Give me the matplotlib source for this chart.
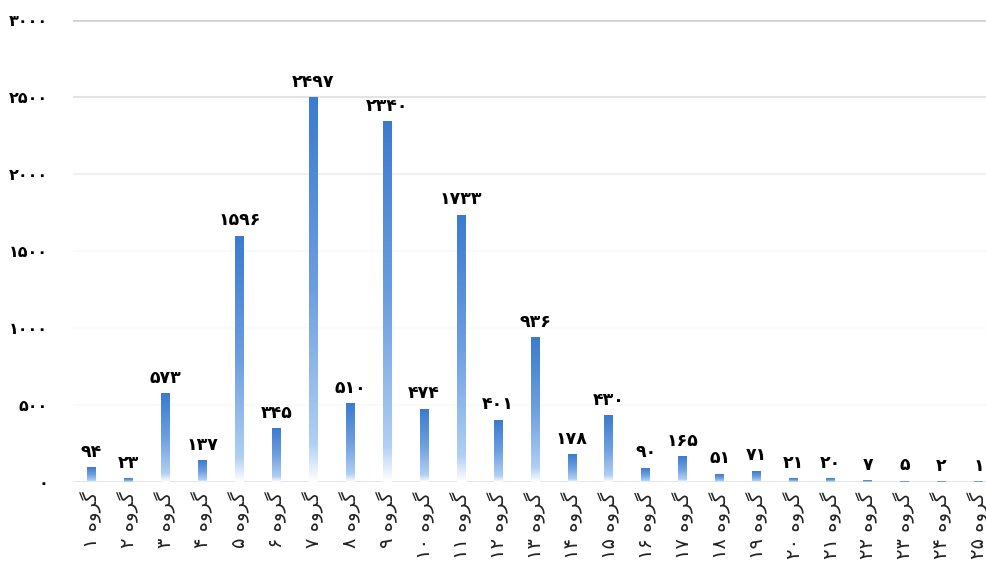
import numpy as np
import matplotlib.pyplot as plt
from matplotlib.colors import LinearSegmentedColormap

groups = list(range(1, 26))
values = [94, 23, 573, 137, 1596, 345, 2497, 510, 2340, 474, 1733, 401, 936,
          178, 430, 90, 165, 51, 71, 21, 20, 7, 5, 2, 1]
y_ticks = [0, 500, 1000, 1500, 2000, 2500, 3000]

fa_digits = str.maketrans('0123456789', '۰۱۲۳۴۵۶۷۸۹')


def fa(n):
    return str(n).translate(fa_digits)


# "گروه" in presentation forms, laid out left to right as it is seen
word = '\uFEE9\uFEED\uFEAE\uFB94'
tick_labels = [fa(g) + ' ' + word for g in groups]

plt.rcParams['font.family'] = ['DejaVu Sans']

fig = plt.figure(figsize=(9.87, 5.70), dpi=100)
ax = fig.add_axes([73 / 987, 88 / 570, 924 / 987, 462 / 570])

cmap = LinearSegmentedColormap.from_list(
    'bar_fade', [(0.0, '#ffffff'), (0.1, '#b0cff3'), (0.5, '#6d9fe0'), (1.0, '#3b7bcf')])
grad = np.linspace(0, 1, 256).reshape(-1, 1)

x = np.arange(len(groups))
w = 0.24
for xi, v in zip(x, values):
    ax.imshow(grad, extent=[xi - w / 2, xi + w / 2, 0, v], origin='lower',
              cmap=cmap, aspect='auto', interpolation='bilinear', zorder=3)
    ax.text(xi, v + 45, fa(v), ha='center', va='bottom', fontsize=12.5,
            fontweight='bold', color='black', zorder=4)

# grid lines, fading towards the bottom
grid_colors = ['#e2e2e2', '#fafafa', '#fafafa', '#fafafa', '#f0f0f0', '#e3e3e3', '#d3d3d3']
for t, c in zip(y_ticks, grid_colors):
    ax.axhline(t, color=c, lw=2 if t in (0, 3000) else 1.5, zorder=1)

ax.set_xlim(-0.5, len(groups) - 0.5)
ax.set_ylim(0, 3000)
ax.set_yticks(y_ticks)
ax.set_yticklabels([fa(t) for t in y_ticks], fontsize=11.5, fontweight='bold')
ax.set_xticks(x)
ax.set_xticklabels(tick_labels, rotation=90, fontsize=14, color='#222222')
ax.tick_params(axis='y', length=0, pad=18)
ax.tick_params(axis='x', length=0, pad=7)
for s in ax.spines.values():
    s.set_visible(False)

fig.savefig('out.png', dpi=100)
